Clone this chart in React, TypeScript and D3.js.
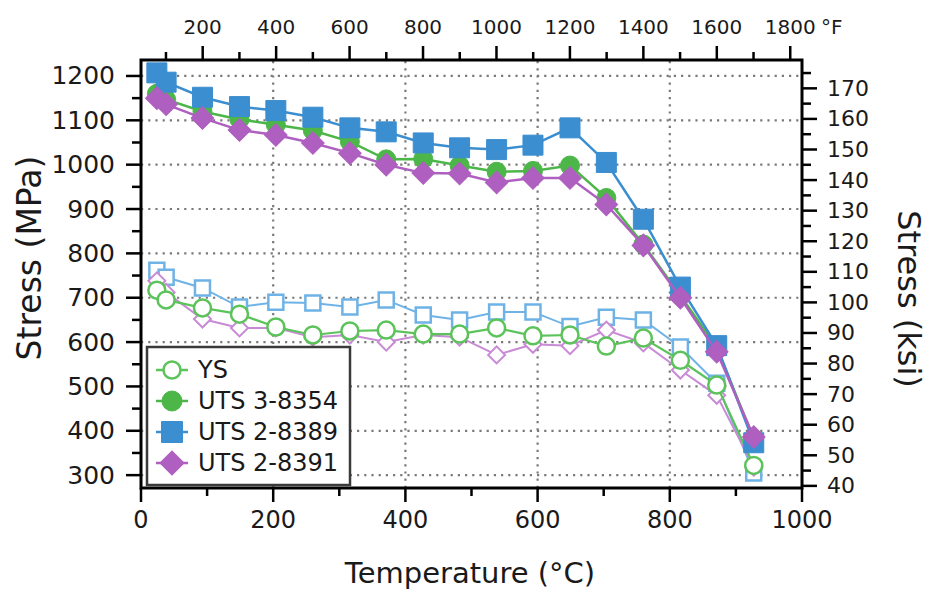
import React from "react";
import * as d3 from "d3";

const temps = [24, 38, 93, 149, 204, 260, 316, 371, 427, 482, 538, 593, 649, 704, 760, 816, 871, 927];
const uts8389 = [1207, 1186, 1152, 1131, 1122, 1107, 1083, 1074, 1049, 1038, 1034, 1044, 1083, 1005, 877, 724, 592, 373];
const uts8354 = [1160, 1147, 1120, 1102, 1090, 1077, 1052, 1012, 1013, 998, 984, 986, 998, 925, 820, 705, 588, 382];
const uts8391 = [1150, 1136, 1105, 1078, 1067, 1049, 1026, 1000, 981, 980, 960, 970, 970, 910, 818, 700, 578, 386];
const ys8389 = [762, 746, 722, 679, 690, 688, 679, 695, 661, 650, 668, 668, 635, 656, 650, 589, 507, 305];
const ys8391 = [738, 712, 652, 632, 632, 611, 616, 600, 616, 611, 571, 595, 592, 627, 598, 537, 480, 318];
const ys8354 = [717, 695, 677, 663, 634, 616, 625, 627, 618, 618, 632, 614, 616, 591, 609, 559, 503, 322];

const legendLabels = ["YS", "UTS 3-8354", "UTS 2-8389", "UTS 2-8391"];
const mpaTicks = [300, 400, 500, 600, 700, 800, 900, 1000, 1100, 1200];
const ksiTicks = [40, 50, 60, 70, 80, 90, 100, 110, 120, 130, 140, 150, 160, 170];
const cTicks = [0, 200, 400, 600, 800, 1000];
const fTicks = [200, 400, 600, 800, 1000, 1200, 1400, 1600, 1800];

const GREEN = "#4cb748";
const BLUE = "#3b8ed0";
const PURPLE = "#ae5fbf";
const LGREEN = "#5cc35a";
const LBLUE = "#6fb3e6";
const LPURPLE = "#c98ad6";

const DJ = "'DejaVu Sans', sans-serif";

export default function App() {
  const x = d3.scaleLinear().domain([0, 1000]).range([141, 802]);
  const y = d3.scaleLinear().domain([271, 1236]).range([488, 60]);
  const MPA_PER_KSI = 6.894757;
  const yK = d3.scaleLinear().domain([271 / MPA_PER_KSI, 1236 / MPA_PER_KSI]).range([488, 60]);
  const xF = d3.scaleLinear().domain([32, 32 + 1000 * 1.8]).range([141, 802]);

  const line = (vals: number[]) =>
    d3.line<number>().x((_, i) => x(temps[i])).y((v) => y(v))(vals) || "";

  const sq = (side: number) => d3.symbol().type(d3.symbolSquare).size(side * side)() || "";
  const circ = (d: number) => d3.symbol().type(d3.symbolCircle).size(Math.PI * (d / 2) * (d / 2))() || "";

  type Mk = "circle" | "square" | "diamond";
  const markerPath = (m: Mk, s: number) => (m === "circle" ? circ(s) : sq(s));
  const markerRot = (m: Mk) => (m === "diamond" ? 45 : 0);

  const series: { vals: number[]; color: string; fill: string; marker: Mk; size: number; sw: number; lw: number }[] = [
    { vals: ys8389, color: LBLUE, fill: "#fff", marker: "square", size: 15, sw: 2.5, lw: 2 },
    { vals: ys8391, color: LPURPLE, fill: "#fff", marker: "diamond", size: 12, sw: 2, lw: 2 },
    { vals: ys8354, color: LGREEN, fill: "#fff", marker: "circle", size: 17, sw: 2.5, lw: 2.2 },
    { vals: uts8354, color: GREEN, fill: GREEN, marker: "circle", size: 19, sw: 1, lw: 2.5 },
    { vals: uts8389, color: BLUE, fill: BLUE, marker: "square", size: 20, sw: 1, lw: 2.5 },
    { vals: uts8391, color: PURPLE, fill: PURPLE, marker: "diamond", size: 16, sw: 1, lw: 2.5 },
  ];

  const legendItems: { label: string; color: string; fill: string; marker: Mk; size: number; sw: number }[] = [
    { label: legendLabels[0], color: LGREEN, fill: "#fff", marker: "circle", size: 17, sw: 2.5 },
    { label: legendLabels[1], color: GREEN, fill: GREEN, marker: "circle", size: 20, sw: 1 },
    { label: legendLabels[2], color: BLUE, fill: BLUE, marker: "square", size: 21, sw: 1 },
    { label: legendLabels[3], color: PURPLE, fill: PURPLE, marker: "diamond", size: 17, sw: 1 },
  ];

  const mpaMinor = mpaTicks.map((t) => t + 50).filter((t) => t < 1236);
  const ksiMinor = ksiTicks.map((t) => t + 5).filter((t) => t * MPA_PER_KSI < 1236);
  const cMinor = cTicks.slice(0, -1).map((t) => t + 100);
  const fMinor = fTicks.map((t) => t - 100);

  const X0 = x(0), X1 = x(1000), Y0 = y(271), Y1 = y(1236);

  return (
    <svg width={930} height={595} style={{ position: "absolute", left: 0, top: 0, background: "#fff" }}>
      <rect x={0} y={0} width={930} height={595} fill="#fff" />
      {/* grid */}
      <g stroke="#7a7a7a" strokeWidth={2.2} strokeDasharray="2.2 5" strokeLinecap="butt">
        {mpaTicks.map((t) => (
          <line key={"gh" + t} x1={X0} x2={X1} y1={y(t)} y2={y(t)} />
        ))}
        {cTicks.slice(1, -1).map((t) => (
          <line key={"gv" + t} x1={x(t)} x2={x(t)} y1={Y0} y2={Y1} />
        ))}
      </g>

      {/* series */}
      {series.map((s, si) => (
        <g key={"s" + si}>
          <path d={line(s.vals)} fill="none" stroke={s.color} strokeWidth={s.lw} />
          {s.vals.map((v, i) => (
            <path
              key={i}
              d={markerPath(s.marker, s.size)}
              transform={`translate(${x(temps[i])},${y(v)}) rotate(${markerRot(s.marker)})`}
              fill={s.fill}
              stroke={s.color}
              strokeWidth={s.sw}
            />
          ))}
        </g>
      ))}

      {/* frame */}
      <rect x={X0} y={Y1} width={X1 - X0} height={Y0 - Y1} fill="none" stroke="#000" strokeWidth={3} />

      {/* ticks */}
      <g stroke="#000" strokeWidth={2.5}>
        {mpaTicks.map((t) => (
          <line key={"lt" + t} x1={X0 - 15} x2={X0} y1={y(t)} y2={y(t)} />
        ))}
        {mpaMinor.map((t) => (
          <line key={"lm" + t} x1={X0 - 9} x2={X0} y1={y(t)} y2={y(t)} />
        ))}
        {ksiTicks.map((t) => (
          <line key={"rt" + t} x1={X1} x2={X1 + 15} y1={yK(t)} y2={yK(t)} />
        ))}
        {ksiMinor.map((t) => (
          <line key={"rm" + t} x1={X1} x2={X1 + 9} y1={yK(t)} y2={yK(t)} />
        ))}
        {cTicks.map((t) => (
          <line key={"bt" + t} x1={x(t)} x2={x(t)} y1={Y0} y2={Y0 + 14} />
        ))}
        {cMinor.map((t) => (
          <line key={"bm" + t} x1={x(t)} x2={x(t)} y1={Y0} y2={Y0 + 8} />
        ))}
        {fTicks.map((t) => (
          <line key={"tt" + t} x1={xF(t)} x2={xF(t)} y1={Y1} y2={Y1 - 14} />
        ))}
        {fMinor.map((t) => (
          <line key={"tm" + t} x1={xF(t)} x2={xF(t)} y1={Y1} y2={Y1 - 8} />
        ))}
      </g>

      <g fill="#1a1a1a" fontFamily={DJ} fontSize={25}>
        {mpaTicks.map((t) => (
          <text key={"ll" + t} x={X0 - 26} y={y(t)} textAnchor="end" dominantBaseline="central">
            {t}
          </text>
        ))}
      </g>
      <g fill="#1a1a1a" fontFamily={DJ} fontSize={22}>
        {ksiTicks.map((t) => (
          <text key={"rl" + t} x={X1 + 25} y={yK(t)} textAnchor="start" dominantBaseline="central">
            {t}
          </text>
        ))}
      </g>
      <g fill="#1a1a1a" fontFamily={DJ} fontSize={24}>
        {cTicks.map((t) => (
          <text key={"bl" + t} x={x(t)} y={528} textAnchor="middle">
            {t}
          </text>
        ))}
      </g>
      <g fill="#1a1a1a" fontFamily={DJ} fontSize={20}>
        {fTicks.map((t) => (
          <text key={"tl" + t} x={xF(t)} y={34} textAnchor="middle">
            {t}
          </text>
        ))}
        <text x={821} y={34} textAnchor="start">°F</text>
      </g>

      {/* axis titles */}
      <text x={470} y={583} textAnchor="middle" fontFamily={DJ} fontSize={29} fill="#1a1a1a">
        Temperature (°C)
      </text>
      <text transform={`translate(41,258) rotate(-90)`} textAnchor="middle" fontFamily={DJ} fontSize={33} fill="#1a1a1a">
        Stress (MPa)
      </text>
      <text transform={`translate(898,299) rotate(90)`} textAnchor="middle" fontFamily={DJ} fontSize={32} fill="#1a1a1a">
        Stress (ksi)
      </text>

      {/* legend */}
      <g>
        <rect x={147} y={347} width={203} height={138} fill="#fff" stroke="#3a3a3a" strokeWidth={2.5} />
        {legendItems.map((it, i) => {
          const cy = 370 + i * 31;
          return (
            <g key={"lg" + i}>
              <line x1={156} x2={188} y1={cy} y2={cy} stroke={it.color} strokeWidth={2.5} />
              <path
                d={markerPath(it.marker, it.size)}
                transform={`translate(172,${cy}) rotate(${markerRot(it.marker)})`}
                fill={it.fill}
                stroke={it.color}
                strokeWidth={it.sw}
              />
              <text x={198} y={cy} dominantBaseline="central" fontFamily={DJ} fontSize={24} fill="#1a1a1a">
                {it.label}
              </text>
            </g>
          );
        })}
      </g>
    </svg>
  );
}
